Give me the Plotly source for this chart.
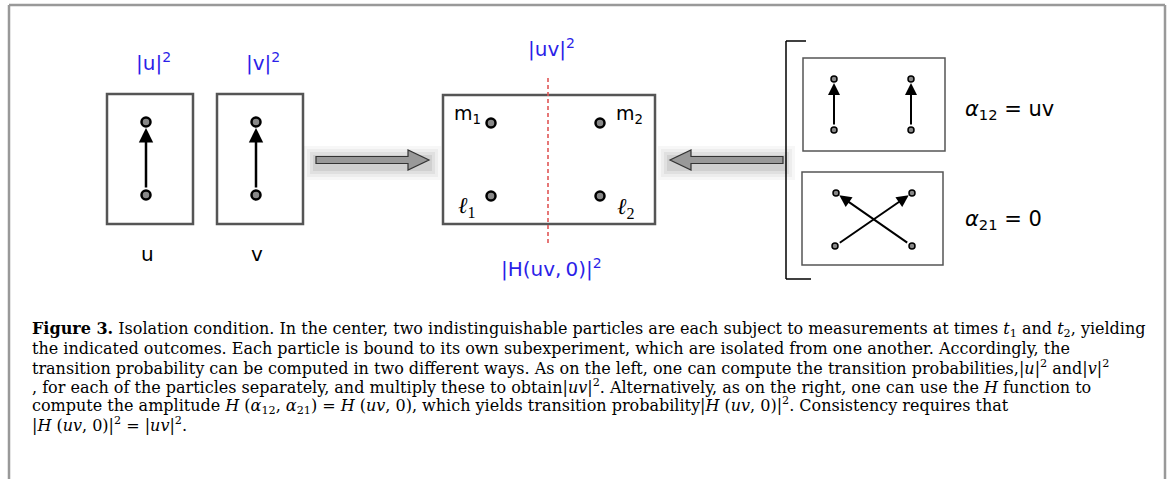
import plotly.graph_objects as go

W, H = 1171, 479

# ---- text content ----
outcome_labels = ["u", "v"]
prob_labels = ["|u|<sup>2</sup>", "|v|<sup>2</sup>"]
center_top = "|uv|<sup>2</sup>"
center_bottom = "|H(uv,\u20090)|<sup>2</sup>"
point_labels = ["m<sub>1</sub>", "m<sub>2</sub>", "<i>\u2113</i><sub>1</sub>", "<i>\u2113</i><sub>2</sub>"]
alpha_labels = ["<i>\u03b1</i><sub>12</sub> = uv", "<i>\u03b1</i><sub>21</sub> = 0"]
caption_lines = [
    "<b>Figure 3.</b> Isolation condition. In the center, two indistinguishable particles are each subject to measurements at times <i>t</i><sub>1</sub> and <i>t</i><sub>2</sub>, yielding",
    "the indicated outcomes. Each particle is bound to its own subexperiment, which are isolated from one another. Accordingly, the",
    "transition probability can be computed in two different ways. As on the left, one can compute the transition probabilities,|<i>u</i>|<sup>2</sup> and|<i>v</i>|<sup>2</sup>",
    ", for each of the particles separately, and multiply these to obtain|<i>uv</i>|<sup>2</sup>. Alternatively, as on the right, one can use the <i>H</i> function to",
    "compute the amplitude <i>H</i> (<i>\u03b1</i><sub>12</sub>, <i>\u03b1</i><sub>21</sub>) = <i>H</i> (<i>uv</i>, 0), which yields transition probability|<i>H</i> (<i>uv</i>, 0)|<sup>2</sup>. Consistency requires that",
    "|<i>H</i> (<i>uv</i>, 0)|<sup>2</sup> = |<i>uv</i>|<sup>2</sup>.",
]

BLUE = "#2c1fe8"
DARK = "#555555"
SANS = "DejaVu Sans"
SERIF = "Liberation Serif"
CAP_FONT = "DejaVu Serif"

fig = go.Figure()
shapes = []
ann = []

def rect(x0, y0, x1, y1, color=DARK, width=2.5):
    shapes.append(dict(type="rect", x0=x0, y0=y0, x1=x1, y1=y1,
                       line=dict(color=color, width=width), fillcolor="rgba(0,0,0,0)", layer="below"))

def line(x0, y0, x1, y1, color="black", width=1.5, dash=None):
    shapes.append(dict(type="line", x0=x0, y0=y0, x1=x1, y1=y1,
                       line=dict(color=color, width=width, dash=dash), layer="below"))

def arrow(x0, y0, x1, y1, width=2.5, size=1.2, stand=6, start=6):
    ann.append(dict(x=x1, y=y1, ax=x0, ay=y0, xref="x", yref="y", axref="x", ayref="y",
                    text="", showarrow=True, arrowhead=2, arrowsize=size, arrowwidth=width,
                    arrowcolor="black", standoff=stand, startstandoff=start))

def text(x, y, s, size=20, color="black", family=SANS, xanchor="center", yanchor="middle"):
    ann.append(dict(x=x, y=y, xref="x", yref="y", text=s, showarrow=False,
                    font=dict(size=size, color=color, family=family),
                    xanchor=xanchor, yanchor=yanchor))

def block_arrow(tip_x, back_x, end_x, yc):
    for k, op in [(12, 0.03), (9, 0.04), (6, 0.05), (3, 0.07)]:
        shapes.append(dict(type="rect", x0=min(end_x, tip_x) - k, x1=max(end_x, tip_x) + k,
                           y0=yc - 5 - k + 3, y1=yc + 5 + k + 3, line=dict(width=0),
                           fillcolor=f"rgba(0,0,0,{op})", layer="below"))
    path = (f"M {end_x},{yc-3.5} L {back_x},{yc-3.5} L {back_x},{yc-10} L {tip_x},{yc} "
            f"L {back_x},{yc+10} L {back_x},{yc+3.5} L {end_x},{yc+3.5} Z")
    shapes.append(dict(type="path", path=path, fillcolor="#999999",
                       line=dict(color="#333333", width=1.2), layer="below"))

# outer frame
line(9, 5, 1165, 5, color="#999999", width=2.5)
line(9, 5, 9, 479, color="#999999", width=2.5)
line(1165, 5, 1165, 479, color="#999999", width=2.5)

# ---- left: two boxes ----
left_cx = [146, 256]
for cx, lab, pl in zip(left_cx, outcome_labels, prob_labels):
    rect(cx - 39, 94, cx + 47, 224)
    arrow(cx, 195, cx, 122, width=2.5, size=1.15, stand=6, start=6)
    text(cx + 7, 62, pl, size=20, color=BLUE)
    text(cx + 1, 254, lab, size=20)
fig.add_trace(go.Scatter(x=[146, 146, 256, 256], y=[122, 195, 122, 195], mode="markers",
                         marker=dict(size=9, color="#888888", line=dict(color="black", width=2.5)),
                         hoverinfo="skip"))

# block arrows
block_arrow(429, 408, 316, 160)
block_arrow(670, 691, 783, 160)

# ---- center box ----
rect(443, 95, 655, 224)
line(548, 78, 548, 243, color="#e05555", width=1.6, dash="4px,3px")
text(551, 48, center_top, size=20, color=BLUE)
text(551, 268, center_bottom, size=20, color=BLUE)
fig.add_trace(go.Scatter(x=[491, 600, 491, 600], y=[123, 123, 196, 196], mode="markers",
                         marker=dict(size=9, color="#888888", line=dict(color="black", width=2.5)),
                         hoverinfo="skip"))
text(467, 114, point_labels[0], size=19)
text(629, 114, point_labels[1], size=19)
text(467, 207, point_labels[2], size=23, family=SERIF)
text(626, 208, point_labels[3], size=23, family=SERIF)

# ---- right side ----
line(786, 41, 786, 279, width=1.5)
line(786, 41, 806, 41, width=1.5)
line(786, 279, 811, 279, width=1.5)
rect(803, 58, 945, 151, color="#555555", width=1.5)
rect(802, 172, 943, 265, color="#555555", width=1.5)
arrow(834, 130, 834, 79, width=2, size=1.2, stand=4, start=4)
arrow(911, 130, 911, 79, width=2, size=1.2, stand=4, start=4)
arrow(835, 246, 912, 193, width=2, size=1.2, stand=4, start=4)
arrow(912, 246, 836, 193, width=2, size=1.2, stand=4, start=4)
fig.add_trace(go.Scatter(x=[834, 911, 834, 911, 836, 912, 835, 912],
                         y=[79, 79, 130, 130, 193, 193, 246, 246], mode="markers",
                         marker=dict(size=6, color="#888888", line=dict(color="black", width=1.5)),
                         hoverinfo="skip"))
text(963, 110, alpha_labels[0], size=21, xanchor="left")
text(963, 220, alpha_labels[1], size=21, xanchor="left")

# ---- caption ----
cap_y = [329, 348, 367, 386, 405, 424]
for yy, s in zip(cap_y, caption_lines):
    text(30, yy, s, size=16, family=CAP_FONT, xanchor="left")

fig.update_layout(
    width=W, height=H, margin=dict(l=0, r=0, t=0, b=0),
    paper_bgcolor="white", plot_bgcolor="white", showlegend=False,
    xaxis=dict(range=[0, W], visible=False, fixedrange=True),
    yaxis=dict(range=[H, 0], visible=False, fixedrange=True),
    shapes=shapes, annotations=ann,
)
fig.write_html("out.html", config={"displayModeBar": False},
               post_script="document.body.style.margin='0';document.body.style.overflow='hidden';")
